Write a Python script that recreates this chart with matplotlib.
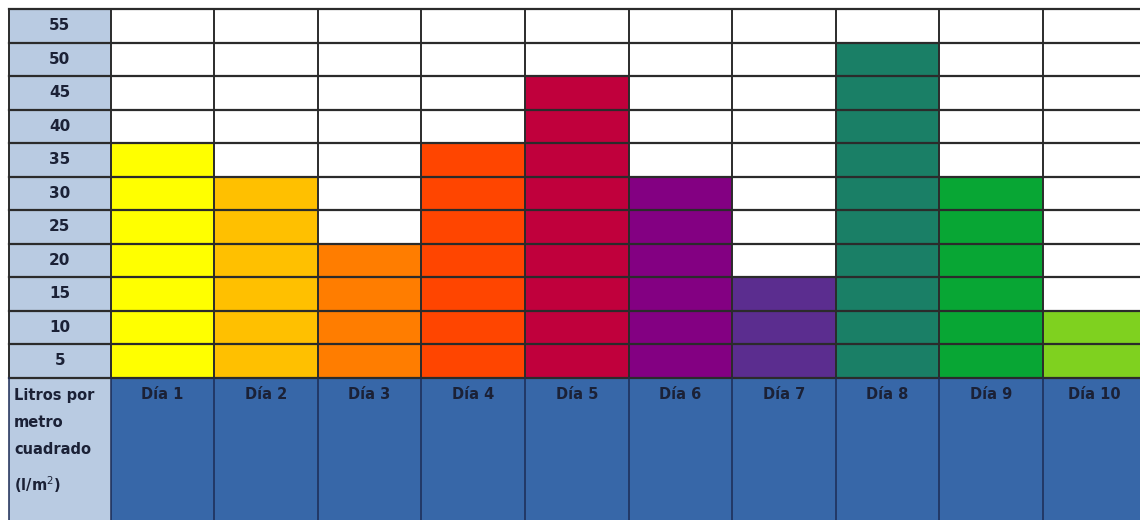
import matplotlib.pyplot as plt

# data (litros por metro cuadrado, one bar per day)
dias = ['Día 1', 'Día 2', 'Día 3', 'Día 4', 'Día 5',
        'Día 6', 'Día 7', 'Día 8', 'Día 9', 'Día 10']
litros = [35, 30, 20, 35, 45, 30, 15, 50, 30, 10]
colores = ['#FFFF00', '#FFC000', '#FF7D00', '#FF4500', '#C0003C',
           '#830082', '#5B2D8F', '#1A7F66', '#08A634', '#7FD11F']
filas = [5, 10, 15, 20, 25, 30, 35, 40, 45, 50, 55]
etiqueta = 'Litros por\nmetro\ncuadrado\n(l/m$^{2}$)'

linea = '#2b2b2b'
linea_azul = '#1C2B55'
txt = '#1B2136'
azul = '#3767A8'
celeste = '#B9CBE2'

fig = plt.figure(figsize=(11.4, 5.2), dpi=100)
ax = fig.add_axes([0, 0, 1, 1])

# pixel geometry of the grid -> data coords
col_w = 103.6
x0_px = 110.5
row_h = 33.5
y0_px = 377.5
ax.set_xlim(-x0_px / col_w, (1140 - x0_px) / col_w)
ax.set_ylim(-(520 - y0_px) / row_h * 5, y0_px / row_h * 5)
ybot = ax.get_ylim()[0]
ytop = max(filas)
xleft = -(x0_px - 9) / col_w

x = list(range(len(dias)))

# left label column and blue base strip
ax.bar([xleft], [ytop - ybot], bottom=ybot, width=-xleft, align='edge',
       color=celeste, zorder=1)
ax.bar(x, [ybot] * len(dias), width=1, align='edge', color=azul, zorder=1)

# coloured day columns
ax.bar(x, litros, width=1, align='edge', color=colores, zorder=2)

# grid lines
for v in [0] + filas:
    ax.plot([xleft, len(dias) + 1], [v, v], color=linea, lw=1.6, zorder=3)
for c in [xleft] + list(range(len(dias) + 1)):
    ax.plot([c, c], [0, ytop], color=linea, lw=1.4, zorder=3)
    ax.plot([c, c], [ybot - 5, 0], color=linea_azul, lw=1.1, zorder=3)

# text
for v in filas:
    ax.text(xleft / 2, v - 2.5, str(v), ha='center', va='center',
            fontsize=11, fontweight='bold', color=txt, zorder=4)
for i, d in enumerate(dias):
    ax.text(i + 0.5, -2.6, d, ha='center', va='center',
            fontsize=10.5, fontweight='bold', color=txt, zorder=4)
ax.text(xleft + 0.05, -1.6, etiqueta, ha='left', va='top',
        fontsize=10.5, fontweight='bold', color=txt, linespacing=2.0, zorder=4)

ax.axis('off')
fig.savefig('out.png', dpi=100)
